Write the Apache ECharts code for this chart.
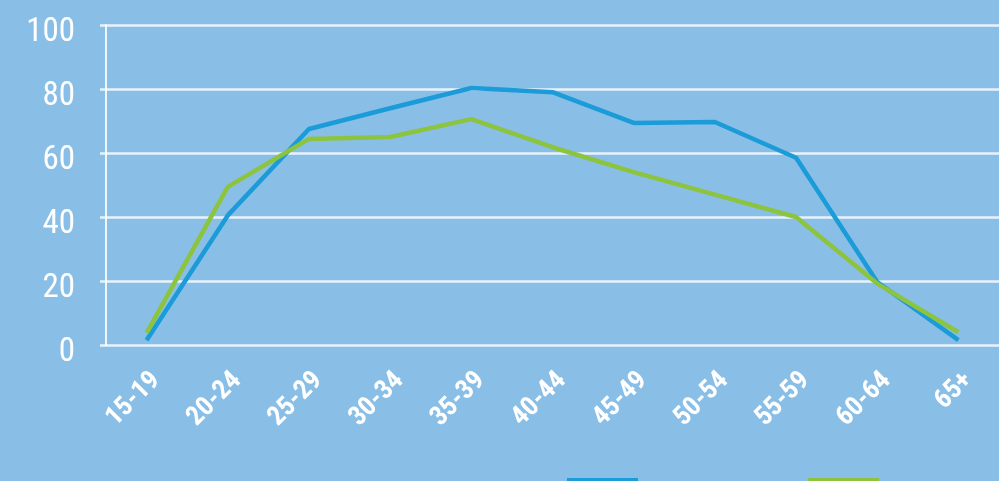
<!DOCTYPE html>
<html>
<head>
<meta charset="utf-8">
<script src="https://cdn.jsdelivr.net/npm/echarts@6/dist/echarts.min.js"></script>
<style>
html,body{margin:0;padding:0;background:#89bfe7;}
#chart{width:999px;height:481px;}
</style>
</head>
<body>
<div id="chart"></div>
<script>
const categories = ['15-19','20-24','25-29','30-34','35-39','40-44','45-49','50-54','55-59','60-64','65+'];
const seriesBlue = [1.5, 40.5, 67.5, 74, 80.3, 79, 69.4, 69.7, 58.5, 19.7, 1.5];
const seriesGreen = [3.8, 49.4, 64.4, 65, 70.6, 61.8, 54, 47, 40, 19.2, 4];
const yTicks = [0, 20, 40, 60, 80, 100];
const seriesNames = ['Men', 'Women'];

const chart = echarts.init(document.getElementById('chart'), null, {renderer: 'canvas'});
const font = '"Roboto Condensed", "Open Sans Condensed", sans-serif';
chart.setOption({
  backgroundColor: '#89bfe7',
  animation: false,
  grid: {left: 106, top: 25, bottom: 136, right: -16, containLabel: false},
  legend: [
    {left: 567, bottom: -17, padding: 0, itemWidth: 71, itemHeight: 20, icon: 'rect', data: [seriesNames[0]],
     textStyle: {color: 'rgba(0,0,0,0)', fontSize: 10, fontFamily: font}},
    {left: 808, bottom: -17, padding: 0, itemWidth: 71, itemHeight: 20, icon: 'rect', data: [seriesNames[1]],
     textStyle: {color: 'rgba(0,0,0,0)', fontSize: 10, fontFamily: font}}
  ],
  xAxis: {
    type: 'category',
    data: categories,
    boundaryGap: true,
    axisLine: {show: false},
    axisTick: {show: false},
    axisLabel: {rotate: 45, color: '#ffffff', fontSize: 27, fontWeight: 'bold', fontFamily: font, margin: 22, verticalAlign: 'top', interval: 0}
  },
  yAxis: {
    type: 'value',
    min: yTicks[0],
    max: yTicks[yTicks.length - 1],
    interval: 20,
    axisLine: {show: true, lineStyle: {color: 'rgba(255,255,255,0.85)', width: 2}},
    axisTick: {show: true, length: 6, lineStyle: {color: 'rgba(255,255,255,0.8)', width: 2.5}},
    axisLabel: {color: '#ffffff', fontSize: 33, fontFamily: font, margin: 31, verticalAlign: 'top', lineHeight: 16},
    splitLine: {show: true, lineStyle: {color: 'rgba(255,255,255,0.8)', width: 2.5}}
  },
  series: [
    {name: seriesNames[0], type: 'line', data: seriesBlue, symbol: 'none',
     lineStyle: {color: '#1b9bd7', width: 4.5}, itemStyle: {color: '#1b9bd7'}, z: 3},
    {name: seriesNames[1], type: 'line', data: seriesGreen, symbol: 'none',
     lineStyle: {color: '#8cc43f', width: 4.5}, itemStyle: {color: '#8cc43f'}, z: 4}
  ]
});
</script>
</body>
</html>
